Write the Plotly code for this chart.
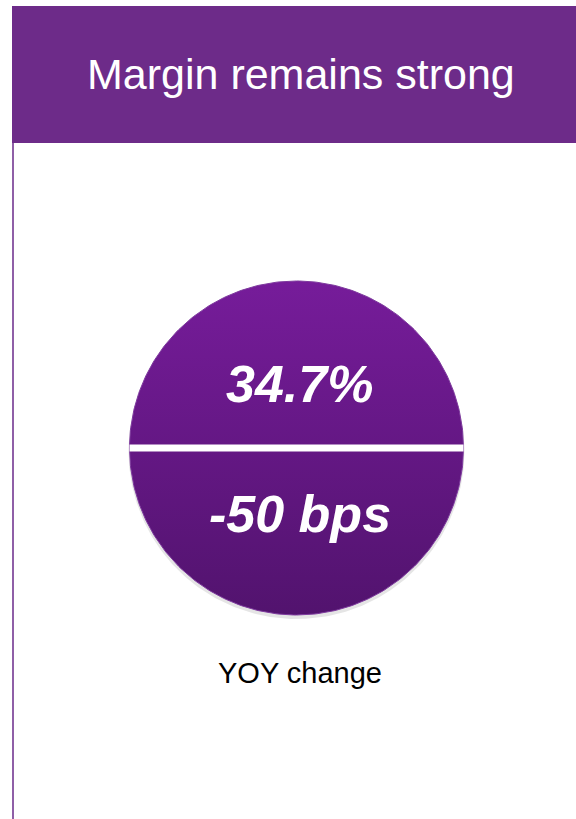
import numpy as np
import plotly.graph_objects as go

# ---- data ----
title_text = "Margin remains strong"
margin_value = "34.7%"
yoy_change_bps = -50
yoy_label = "YOY change"

W, H = 576, 819
header_color = "#6D2B89"
top_color = "#761C9A"
bottom_color = "#52136E"

cx, cy, r = 296.5, 448, 167

fig = go.Figure()

# shadow
t = np.linspace(0, 2 * np.pi, 361)
fig.add_trace(go.Scatter(
    x=cx + (r + 1) * np.cos(t), y=cy + 3 + (r + 1) * np.sin(t),
    mode="lines", fill="toself", fillcolor="rgba(0,0,0,0.10)",
    line=dict(width=0), hoverinfo="skip", showlegend=False))

# circle with vertical gradient
fig.add_trace(go.Scatter(
    x=cx + r * np.cos(t), y=cy + r * np.sin(t),
    mode="lines", fill="toself",
    fillgradient=dict(type="vertical", start=cy - r, stop=cy + r,
                      colorscale=[[0, top_color], [1, bottom_color]]),
    line=dict(width=1, color="#7E3A9E"), hoverinfo="skip", showlegend=False))

shapes = [
    dict(type="rect", xref="x", yref="y", x0=12, x1=W, y0=6, y1=143,
         fillcolor=header_color, line=dict(width=0), layer="below"),
    dict(type="line", xref="x", yref="y", x0=13, x1=13, y0=143, y1=H,
         line=dict(color="#6A2A8A", width=1.5)),
    dict(type="line", xref="x", yref="y", x0=cx - r, x1=cx + r, y0=448, y1=448,
         line=dict(color="white", width=7)),
]

annotations = [
    dict(x=301, y=74, xref="x", yref="y", text=title_text, showarrow=False,
         font=dict(family="Liberation Sans, Arial", size=43, color="white"),
         xanchor="center", yanchor="middle"),
    dict(x=299, y=384, xref="x", yref="y", text=margin_value, showarrow=False,
         font=dict(family="Liberation Sans, Arial", size=52, color="white",
                   weight="bold", style="italic"),
         xanchor="center", yanchor="middle"),
    dict(x=300, y=514, xref="x", yref="y", text=f"{yoy_change_bps} bps", showarrow=False,
         font=dict(family="Liberation Sans, Arial", size=52, color="white",
                   weight="bold", style="italic"),
         xanchor="center", yanchor="middle"),
    dict(x=300, y=673, xref="x", yref="y", text=yoy_label, showarrow=False,
         font=dict(family="Liberation Sans, Arial", size=29, color="black"),
         xanchor="center", yanchor="middle"),
]

fig.update_layout(
    width=W, height=H, margin=dict(l=0, r=0, t=0, b=0),
    paper_bgcolor="white", plot_bgcolor="white",
    xaxis=dict(range=[0, W], visible=False, fixedrange=True),
    yaxis=dict(range=[H, 0], visible=False, fixedrange=True),
    shapes=shapes, annotations=annotations, showlegend=False,
)

fig.write_html(
    "out.html",
    config={"displayModeBar": False},
    post_script="document.body.style.margin='0';document.body.style.overflow='hidden';",
)
